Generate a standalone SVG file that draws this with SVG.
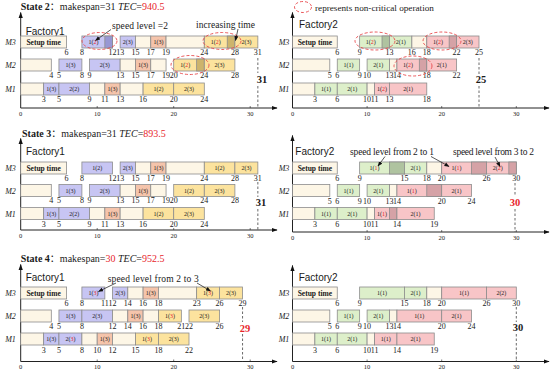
<svg xmlns="http://www.w3.org/2000/svg" width="552" height="371" viewBox="0 0 552 371">
<defs>
<style>
text{font-family:"Liberation Serif","Times New Roman","Noto Sans CJK SC",serif;fill:#1a1a1a}
.bar{stroke:#8c8c8c;stroke-width:0.8}
.c{fill:#FDF6E6}.b{fill:#C7C5F3}.bd{fill:#9897D3}.s{fill:#F5C4AB}
.y{fill:#FCE39E}.yd{fill:#CDB46C}.g{fill:#DDEFCA}.gd{fill:#AFC3A0}
.p{fill:#F8C5C7}.pd{fill:#D5A2A6}
.lb{font-size:6px;text-anchor:middle}
.st{font-size:7.5px;font-weight:bold;text-anchor:middle}
.n{font-size:8px;text-anchor:middle}
.m{font-size:8px;font-style:italic;text-anchor:middle}
.tk{font-size:6.5px;text-anchor:middle}
.f{font-family:"Liberation Sans",Arial,sans-serif;font-size:10px}
.an{font-size:9.5px}
.big{font-size:10.5px;font-weight:bold;text-anchor:middle}
.r{fill:#E8262C}
.ti{font-size:10px}
.ax{stroke:#222;stroke-width:1;fill:none}
.tm{stroke:#222;stroke-width:0.6}
.dl{stroke:#444;stroke-width:0.8;stroke-dasharray:2.5,2}
.el{fill:none;stroke:#E8474B;stroke-width:0.9;stroke-dasharray:3,2}
.ar{stroke:#111;stroke-width:0.7;fill:none}
</style>
<marker id="ah" viewBox="0 0 10 10" refX="9" refY="5" markerWidth="6" markerHeight="6" markerUnits="userSpaceOnUse" orient="auto"><path d="M0,1.5L10,5L0,8.5z" fill="#111"/></marker>
<marker id="as" viewBox="0 0 10 10" refX="9" refY="5" markerWidth="5" markerHeight="5" markerUnits="userSpaceOnUse" orient="auto"><path d="M0,1L10,5L0,9z" fill="#111"/></marker>
</defs>
<rect width="552" height="371" fill="#fff"/>

<text class="ti" x="20.7" y="9.5"><tspan font-weight="bold">State 2</tspan>：makespan=31 <tspan font-style="italic">TEC</tspan>=<tspan class="r">940.5</tspan></text>
<text class="ti" x="22" y="136.5"><tspan font-weight="bold">State 3</tspan>：makespan=31 <tspan font-style="italic">TEC</tspan>=<tspan class="r">893.5</tspan></text>
<text class="ti" x="20.7" y="261.5"><tspan font-weight="bold">State 4</tspan>：makespan=<tspan class="r">30</tspan> <tspan font-style="italic">TEC</tspan>=<tspan class="r">952.5</tspan></text>

<g id="legend">
<ellipse class="el" cx="303" cy="7" rx="8.5" ry="5.5"/>
<text x="315" y="10.5" style="font-size:9.2px">represents non-critical operation</text>
</g>

<g id="s2-factory1">
<path class="ax" d="M20.7,108V12.5" marker-end="url(#ah)"/>
<path class="ax" d="M20.7,108H277" marker-end="url(#ah)"/>
<path class="tm" d="M97.2,108v-2M173.7,108v-2M250.2,108v-2"/>
<text class="tk" x="20.7" y="116">0</text><text class="tk" x="97.2" y="116">10</text><text class="tk" x="173.7" y="116">20</text><text class="tk" x="250.2" y="116">30</text>
<text class="f" x="25.7" y="35">Factory1</text>
<g transform="translate(0,36)">
<text class="m" x="10.5" y="9">M3</text>
<rect class="bar c" x="20.7" width="45.9" height="12"/><text class="st" x="43.6" y="8.5">Setup time</text>
<rect class="bar b" x="81.9" width="30.6" height="12"/><rect class="bar bd" x="104.85" width="7.65" height="12"/><text class="lb" x="93.4" y="8.2">1(<tspan class="r">2</tspan>)</text>
<rect class="bar b" x="120.15" width="15.3" height="12"/><text class="lb" x="127.8" y="8.2">2(3)</text>
<rect class="bar c" x="135.45" width="15.3" height="12"/>
<rect class="bar s" x="150.75" width="15.3" height="12"/><text class="lb" x="158.4" y="8.2">1(3)</text>
<rect class="bar c" x="166.05" width="38.25" height="12"/>
<rect class="bar y" x="204.3" width="30.6" height="12"/><rect class="bar yd" x="227.25" width="7.65" height="12"/><text class="lb" x="215.8" y="8.2">1(<tspan class="r">2</tspan>)</text>
<rect class="bar y" x="234.9" width="22.95" height="12"/><text class="lb" x="246.4" y="8.2">2(3)</text>
<text class="n" y="19"><tspan x="66.6">6</tspan><tspan x="81.9">8</tspan><tspan x="112.5">12</tspan><tspan x="120.15">13</tspan><tspan x="135.45">15</tspan><tspan x="150.75">17</tspan><tspan x="166.05">19</tspan><tspan x="204.3">24</tspan><tspan x="234.9">28</tspan><tspan x="257.85">31</tspan></text>
</g>
<g transform="translate(0,59)">
<text class="m" x="10.5" y="9">M2</text>
<rect class="bar c" x="20.7" width="30.6" height="12"/>
<rect class="bar b" x="58.95" width="22.95" height="12"/><text class="lb" x="70.4" y="8.2">1(3)</text>
<rect class="bar b" x="89.55" width="30.6" height="12"/><text class="lb" x="104.85" y="8.2">2(3)</text>
<rect class="bar c" x="120.15" width="15.3" height="12"/>
<rect class="bar s" x="135.45" width="15.3" height="12"/><text class="lb" x="143.1" y="8.2">1(3)</text>
<rect class="bar c" x="150.75" width="15.3" height="12"/>
<rect class="bar y" x="173.7" width="30.6" height="12"/><rect class="bar yd" x="196.65" width="7.65" height="12"/><text class="lb" x="185.2" y="8.2">1(<tspan class="r">2</tspan>)</text>
<rect class="bar y" x="204.3" width="30.6" height="12"/><text class="lb" x="219.6" y="8.2">2(3)</text>
<text class="n" y="19"><tspan x="51.3">4</tspan><tspan x="58.95">5</tspan><tspan x="81.9">8</tspan><tspan x="89.55">9</tspan><tspan x="120.15">13</tspan><tspan x="135.45">15</tspan><tspan x="150.75">17</tspan><tspan x="166.05">19</tspan><tspan x="173.7">20</tspan><tspan x="204.3">24</tspan><tspan x="234.9">28</tspan></text>
</g>
<g transform="translate(0,83)">
<text class="m" x="10.5" y="9">M1</text>
<rect class="bar c" x="20.7" width="22.95" height="12"/>
<rect class="bar b" x="43.65" width="15.3" height="12"/><text class="lb" x="51.3" y="8.2">1(3)</text>
<rect class="bar b" x="58.95" width="30.6" height="12"/><text class="lb" x="74.25" y="8.2">2(2)</text>
<rect class="bar c" x="89.55" width="15.3" height="12"/>
<rect class="bar s" x="104.85" width="15.3" height="12"/><text class="lb" x="112.5" y="8.2">1(3)</text>
<rect class="bar c" x="120.15" width="22.95" height="12"/>
<rect class="bar y" x="143.1" width="30.6" height="12"/><text class="lb" x="158.4" y="8.2">1(2)</text>
<rect class="bar y" x="173.7" width="30.6" height="12"/><text class="lb" x="189" y="8.2">2(3)</text>
<text class="n" y="19"><tspan x="43.65">3</tspan><tspan x="58.95">5</tspan><tspan x="89.55">9</tspan><tspan x="104.85">11</tspan><tspan x="120.15">13</tspan><tspan x="143.1">16</tspan><tspan x="173.7">20</tspan><tspan x="204.3">24</tspan></text>
</g>
<path class="dl" d="M257.85,58V73M257.85,86V108"/>
<text class="big" x="262" y="83">31</text>
<ellipse class="el" cx="99.5" cy="41" rx="17.5" ry="8.5"/>
<ellipse class="el" cx="222" cy="41" rx="19" ry="8.5"/>
<ellipse class="el" cx="190" cy="65" rx="19" ry="9.5"/>
<text class="an" x="112" y="29" textLength="56">speed level =2</text>
<text class="an" x="196" y="28" textLength="59">increasing time</text>
</g>

<g id="s2-factory2">
<path class="ax" d="M292.5,108V12.5" marker-end="url(#ah)"/>
<path class="ax" d="M292.5,108H549" marker-end="url(#ah)"/>
<path class="tm" d="M367.1,108v-2M441.7,108v-2M516.3,108v-2"/>
<text class="tk" x="292.5" y="116">0</text><text class="tk" x="367.1" y="116">10</text><text class="tk" x="441.7" y="116">20</text><text class="tk" x="516.3" y="116">30</text>
<text class="f" x="299" y="28">Factory2</text>
<g transform="translate(0,36)">
<text class="m" x="284" y="9">M3</text>
<rect class="bar c" x="292.5" width="44.76" height="12"/><text class="st" x="314.9" y="8.5">Setup time</text>
<rect class="bar g" x="359.64" width="29.84" height="12"/><rect class="bar gd" x="382.02" width="7.46" height="12"/><text class="lb" x="370.8" y="8.2">1(<tspan class="r">2</tspan>)</text>
<rect class="bar g" x="389.48" width="22.38" height="12"/><text class="lb" x="400.7" y="8.2">2(1)</text>
<rect class="bar c" x="411.86" width="14.92" height="12"/>
<rect class="bar p" x="426.78" width="29.84" height="12"/><rect class="bar pd" x="449.16" width="7.46" height="12"/><text class="lb" x="438" y="8.2">1(<tspan class="r">2</tspan>)</text>
<rect class="bar p" x="456.62" width="22.38" height="12"/><text class="lb" x="467.8" y="8.2">2(3)</text>
<text class="n" y="19"><tspan x="337.26">6</tspan><tspan x="359.64">9</tspan><tspan x="389.48">13</tspan><tspan x="411.86">16</tspan><tspan x="426.78">18</tspan><tspan x="456.62">22</tspan><tspan x="479">25</tspan></text>
</g>
<g transform="translate(0,59)">
<text class="m" x="284" y="9">M2</text>
<rect class="bar c" x="292.5" width="37.3" height="12"/>
<rect class="bar g" x="337.26" width="22.38" height="12"/><text class="lb" x="348.45" y="8.2">1(1)</text>
<rect class="bar g" x="367.1" width="22.38" height="12"/><text class="lb" x="378.3" y="8.2">2(1)</text>
<rect class="bar c" x="389.48" width="7.46" height="12"/>
<rect class="bar p" x="396.94" width="29.84" height="12"/><rect class="bar pd" x="419.32" width="7.46" height="12"/><text class="lb" x="408.1" y="8.2">1(<tspan class="r">2</tspan>)</text>
<rect class="bar p" x="426.78" width="29.84" height="12"/><text class="lb" x="441.7" y="8.2">2(1)</text>
<text class="n" y="19"><tspan x="329.8">5</tspan><tspan x="337.26">6</tspan><tspan x="359.64">9</tspan><tspan x="367.1">10</tspan><tspan x="389.48">13</tspan><tspan x="396.94">14</tspan><tspan x="426.78">18</tspan><tspan x="456.62">22</tspan></text>
</g>
<g transform="translate(0,83)">
<text class="m" x="284" y="9">M1</text>
<rect class="bar c" x="292.5" width="22.38" height="12"/>
<rect class="bar g" x="314.88" width="22.38" height="12"/><text class="lb" x="326.07" y="8.2">1(1)</text>
<rect class="bar g" x="337.26" width="29.84" height="12"/><text class="lb" x="352.18" y="8.2">2(1)</text>
<rect class="bar c" x="367.1" width="7.46" height="12"/>
<rect class="bar p" x="374.56" width="14.92" height="12"/><text class="lb" x="382.02" y="8.2">1(<tspan class="r">2</tspan>)</text>
<rect class="bar p" x="389.48" width="37.3" height="12"/><text class="lb" x="408.13" y="8.2">2(1)</text>
<text class="n" y="19"><tspan x="314.88">3</tspan><tspan x="337.26">6</tspan><tspan x="367.1">10</tspan><tspan x="374.56">11</tspan><tspan x="389.48">13</tspan><tspan x="426.78">18</tspan></text>
</g>
<path class="dl" d="M479,58V74M479,86V108"/>
<text class="big" x="481" y="83">25</text>
<ellipse class="el" cx="375" cy="41" rx="20" ry="9"/>
<ellipse class="el" cx="442" cy="41" rx="19" ry="9"/>
<ellipse class="el" cx="413" cy="66" rx="19" ry="10"/>
</g>

<g id="s3-factory1">
<path class="ax" d="M20.7,230V138.5" marker-end="url(#ah)"/>
<path class="ax" d="M20.7,230H277" marker-end="url(#ah)"/>
<path class="tm" d="M97.2,230v-2M173.7,230v-2M250.2,230v-2"/>
<text class="tk" x="20.7" y="238">0</text><text class="tk" x="97.2" y="238">10</text><text class="tk" x="173.7" y="238">20</text><text class="tk" x="250.2" y="238">30</text>
<text class="f" x="26" y="155">Factory1</text>
<g transform="translate(0,162)">
<text class="m" x="10.5" y="9">M3</text>
<rect class="bar c" x="20.7" width="45.9" height="12"/><text class="st" x="43.6" y="8.5">Setup time</text>
<rect class="bar b" x="81.9" width="30.6" height="12"/><text class="lb" x="97.2" y="8.2">1(2)</text>
<rect class="bar b" x="120.15" width="15.3" height="12"/><text class="lb" x="127.8" y="8.2">2(3)</text>
<rect class="bar c" x="135.45" width="15.3" height="12"/>
<rect class="bar s" x="150.75" width="15.3" height="12"/><text class="lb" x="158.4" y="8.2">1(3)</text>
<rect class="bar c" x="166.05" width="38.25" height="12"/>
<rect class="bar y" x="204.3" width="30.6" height="12"/><text class="lb" x="219.6" y="8.2">1(2)</text>
<rect class="bar y" x="234.9" width="22.95" height="12"/><text class="lb" x="246.4" y="8.2">2(3)</text>
<text class="n" y="18.5"><tspan x="66.6">6</tspan><tspan x="81.9">8</tspan><tspan x="112.5">12</tspan><tspan x="120.15">13</tspan><tspan x="135.45">15</tspan><tspan x="150.75">17</tspan><tspan x="166.05">19</tspan><tspan x="204.3">24</tspan><tspan x="234.9">28</tspan><tspan x="257.85">31</tspan></text>
</g>
<g transform="translate(0,184.5)">
<text class="m" x="10.5" y="9">M2</text>
<rect class="bar c" x="20.7" width="30.6" height="12"/>
<rect class="bar b" x="58.95" width="22.95" height="12"/><text class="lb" x="70.4" y="8.2">1(3)</text>
<rect class="bar b" x="89.55" width="30.6" height="12"/><text class="lb" x="104.85" y="8.2">2(3)</text>
<rect class="bar c" x="120.15" width="15.3" height="12"/>
<rect class="bar s" x="135.45" width="15.3" height="12"/><text class="lb" x="143.1" y="8.2">1(3)</text>
<rect class="bar c" x="150.75" width="15.3" height="12"/>
<rect class="bar y" x="173.7" width="30.6" height="12"/><text class="lb" x="189" y="8.2">1(2)</text>
<rect class="bar y" x="204.3" width="30.6" height="12"/><text class="lb" x="219.6" y="8.2">2(3)</text>
<text class="n" y="18.5"><tspan x="51.3">4</tspan><tspan x="58.95">5</tspan><tspan x="81.9">8</tspan><tspan x="89.55">9</tspan><tspan x="120.15">13</tspan><tspan x="135.45">15</tspan><tspan x="150.75">17</tspan><tspan x="166.05">19</tspan><tspan x="173.7">20</tspan><tspan x="204.3">24</tspan><tspan x="234.9">28</tspan></text>
</g>
<g transform="translate(0,207.5)">
<text class="m" x="10.5" y="9">M1</text>
<rect class="bar c" x="20.7" width="22.95" height="12"/>
<rect class="bar b" x="43.65" width="15.3" height="12"/><text class="lb" x="51.3" y="8.2">1(3)</text>
<rect class="bar b" x="58.95" width="30.6" height="12"/><text class="lb" x="74.25" y="8.2">2(2)</text>
<rect class="bar c" x="89.55" width="15.3" height="12"/>
<rect class="bar s" x="104.85" width="15.3" height="12"/><text class="lb" x="112.5" y="8.2">1(3)</text>
<rect class="bar c" x="120.15" width="22.95" height="12"/>
<rect class="bar y" x="143.1" width="30.6" height="12"/><text class="lb" x="158.4" y="8.2">1(2)</text>
<rect class="bar y" x="173.7" width="30.6" height="12"/><text class="lb" x="189" y="8.2">2(3)</text>
<text class="n" y="19"><tspan x="43.65">3</tspan><tspan x="58.95">5</tspan><tspan x="89.55">9</tspan><tspan x="104.85">11</tspan><tspan x="120.15">13</tspan><tspan x="143.1">16</tspan><tspan x="173.7">20</tspan><tspan x="204.3">24</tspan></text>
</g>
<path class="dl" d="M257.85,182V197M257.85,209V230"/>
<text class="big" x="261" y="206">31</text>
</g>

<g id="s3-factory2">
<path class="ax" d="M292.5,232V135.5" marker-end="url(#ah)"/>
<path class="ax" d="M292.5,232H549" marker-end="url(#ah)"/>
<path class="tm" d="M367.1,232v-2M441.7,232v-2M516.3,232v-2"/>
<text class="tk" x="292.5" y="240">0</text><text class="tk" x="367.1" y="240">10</text><text class="tk" x="441.7" y="240">20</text><text class="tk" x="516.3" y="240">30</text>
<text class="f" x="295.3" y="155">Factory2</text>
<g transform="translate(0,162)">
<text class="m" x="284" y="9">M3</text>
<rect class="bar c" x="292.5" width="44.76" height="12"/><text class="st" x="314.9" y="8.5">Setup time</text>
<rect class="bar g" x="359.64" width="44.76" height="12"/><rect class="bar gd" x="389.48" width="14.92" height="12"/><text class="lb" x="374.56" y="8.2">1(<tspan class="r">1</tspan>)</text>
<rect class="bar g" x="404.4" width="22.38" height="12"/><text class="lb" x="415.6" y="8.2">2(1)</text>
<rect class="bar c" x="426.78" width="14.92" height="12"/>
<rect class="bar p" x="441.7" width="44.76" height="12"/><rect class="bar pd" x="471.54" width="14.92" height="12"/><text class="lb" x="456.6" y="8.2">1(<tspan class="r">1</tspan>)</text>
<rect class="bar p" x="486.46" width="29.84" height="12"/><rect class="bar pd" x="508.84" width="7.46" height="12"/><text class="lb" x="497.65" y="8.2">2(<tspan class="r">2</tspan>)</text>
<text class="n" y="18.5"><tspan x="337.26">6</tspan><tspan x="359.64">9</tspan><tspan x="404.4">15</tspan><tspan x="426.78">18</tspan><tspan x="441.7">20</tspan><tspan x="486.46">26</tspan><tspan x="516.3">30</tspan></text>
</g>
<g transform="translate(0,184.5)">
<text class="m" x="284" y="9">M2</text>
<rect class="bar c" x="292.5" width="37.3" height="12"/>
<rect class="bar g" x="337.26" width="22.38" height="12"/><text class="lb" x="348.45" y="8.2">1(1)</text>
<rect class="bar g" x="367.1" width="22.38" height="12"/><text class="lb" x="378.3" y="8.2">2(1)</text>
<rect class="bar c" x="389.48" width="7.46" height="12"/>
<rect class="bar p" x="396.94" width="44.76" height="12"/><rect class="bar pd" x="426.78" width="14.92" height="12"/><text class="lb" x="411.86" y="8.2">1(<tspan class="r">1</tspan>)</text>
<rect class="bar p" x="441.7" width="29.84" height="12"/><text class="lb" x="456.6" y="8.2">2(1)</text>
<text class="n" y="19"><tspan x="329.8">5</tspan><tspan x="337.26">6</tspan><tspan x="359.64">9</tspan><tspan x="367.1">10</tspan><tspan x="389.48">13</tspan><tspan x="396.94">14</tspan><tspan x="441.7">20</tspan><tspan x="471.54">24</tspan></text>
</g>
<g transform="translate(0,207.5)">
<text class="m" x="284" y="9">M1</text>
<rect class="bar c" x="292.5" width="22.38" height="12"/>
<rect class="bar g" x="314.88" width="22.38" height="12"/><text class="lb" x="326.07" y="8.2">1(1)</text>
<rect class="bar g" x="337.26" width="29.84" height="12"/><text class="lb" x="352.18" y="8.2">2(1)</text>
<rect class="bar c" x="367.1" width="7.46" height="12"/>
<rect class="bar p" x="374.56" width="22.38" height="12"/><rect class="bar pd" x="389.48" width="7.46" height="12"/><text class="lb" x="382.02" y="8.2">1(<tspan class="r">1</tspan>)</text>
<rect class="bar p" x="396.94" width="37.3" height="12"/><text class="lb" x="415.6" y="8.2">2(1)</text>
<text class="n" y="19.5"><tspan x="314.88">3</tspan><tspan x="337.26">6</tspan><tspan x="367.1">10</tspan><tspan x="374.56">11</tspan><tspan x="396.94">14</tspan><tspan x="434.24">19</tspan></text>
</g>
<path class="dl" d="M515,183V196M515,209V232"/>
<text class="big r" x="515" y="206">30</text>
<text class="an" x="350" y="155" textLength="84">speed level from 2 to 1</text>
<text class="an" x="453" y="155" textLength="81">speed level from 3 to 2</text>
</g>

<g id="s4-factory1">
<path class="ax" d="M20.7,361.5V264.5" marker-end="url(#ah)"/>
<path class="ax" d="M20.7,361.5H277" marker-end="url(#ah)"/>
<path class="tm" d="M97.2,361.5v-2M173.7,361.5v-2M250.2,361.5v-2"/>
<text class="tk" x="20.7" y="368.5">0</text><text class="tk" x="97.2" y="368.5">10</text><text class="tk" x="173.7" y="368.5">20</text><text class="tk" x="250.2" y="368.5">30</text>
<text class="f" x="25.7" y="281">Factory1</text>
<g transform="translate(0,287)">
<text class="m" x="10.5" y="9">M3</text>
<rect class="bar c" x="20.7" width="45.9" height="12"/><text class="st" x="43.6" y="8.5">Setup time</text>
<rect class="bar b" x="81.9" width="22.95" height="12"/><text class="lb" x="93.4" y="8.2">1(<tspan class="r">3</tspan>)</text>
<rect class="bar b" x="112.5" width="15.3" height="12"/><text class="lb" x="120.15" y="8.2">2(3)</text>
<rect class="bar c" x="127.8" width="15.3" height="12"/>
<rect class="bar s" x="143.1" width="15.3" height="12"/><text class="lb" x="150.75" y="8.2">1(3)</text>
<rect class="bar c" x="158.4" width="38.25" height="12"/>
<rect class="bar y" x="196.65" width="22.95" height="12"/><text class="lb" x="208.1" y="8.2">1(<tspan class="r">3</tspan>)</text>
<rect class="bar y" x="219.6" width="22.95" height="12"/><text class="lb" x="231.1" y="8.2">2(3)</text>
<text class="n" y="19"><tspan x="66.6">6</tspan><tspan x="81.9">8</tspan><tspan x="104.85">11</tspan><tspan x="112.5">12</tspan><tspan x="127.8">14</tspan><tspan x="143.1">16</tspan><tspan x="158.4">18</tspan><tspan x="196.65">23</tspan><tspan x="219.6">26</tspan><tspan x="242.55">29</tspan></text>
</g>
<g transform="translate(0,310)">
<text class="m" x="10.5" y="9">M2</text>
<rect class="bar c" x="20.7" width="30.6" height="12"/>
<rect class="bar b" x="58.95" width="22.95" height="12"/><text class="lb" x="70.4" y="8.2">1(3)</text>
<rect class="bar b" x="81.9" width="30.6" height="12"/><text class="lb" x="97.2" y="8.2">2(3)</text>
<rect class="bar c" x="112.5" width="15.3" height="12"/>
<rect class="bar s" x="127.8" width="15.3" height="12"/><text class="lb" x="135.45" y="8.2">1(3)</text>
<rect class="bar c" x="143.1" width="15.3" height="12"/>
<rect class="bar y" x="158.4" width="22.95" height="12"/><text class="lb" x="169.9" y="8.2">1(<tspan class="r">3</tspan>)</text>
<rect class="bar y" x="189" width="30.6" height="12"/><text class="lb" x="204.3" y="8.2">2(3)</text>
<text class="n" y="19"><tspan x="51.3">4</tspan><tspan x="58.95">5</tspan><tspan x="81.9">8</tspan><tspan x="112.5">12</tspan><tspan x="127.8">14</tspan><tspan x="143.1">16</tspan><tspan x="158.4">18</tspan><tspan x="181.35">21</tspan><tspan x="189">22</tspan><tspan x="219.6">26</tspan></text>
</g>
<g transform="translate(0,333)">
<text class="m" x="10.5" y="9">M1</text>
<rect class="bar c" x="20.7" width="22.95" height="12"/>
<rect class="bar b" x="43.65" width="15.3" height="12"/><text class="lb" x="51.3" y="8.2">1(3)</text>
<rect class="bar b" x="58.95" width="22.95" height="12"/><text class="lb" x="70.4" y="8.2">2(<tspan class="r">3</tspan>)</text>
<rect class="bar c" x="81.9" width="15.3" height="12"/>
<rect class="bar s" x="97.2" width="15.3" height="12"/><text class="lb" x="104.85" y="8.2">1(3)</text>
<rect class="bar c" x="112.5" width="22.95" height="12"/>
<rect class="bar y" x="135.45" width="22.95" height="12"/><text class="lb" x="146.9" y="8.2">1(<tspan class="r">3</tspan>)</text>
<rect class="bar y" x="158.4" width="30.6" height="12"/><text class="lb" x="173.7" y="8.2">2(3)</text>
<text class="n" y="19.5"><tspan x="43.65">3</tspan><tspan x="58.95">5</tspan><tspan x="81.9">8</tspan><tspan x="97.2">10</tspan><tspan x="112.5">12</tspan><tspan x="135.45">15</tspan><tspan x="158.4">18</tspan><tspan x="189">22</tspan></text>
</g>
<path class="dl" d="M242.55,307V322M242.55,334V361.5"/>
<text class="big r" x="245" y="332">29</text>
<text class="an" x="107.7" y="281.5" textLength="91">speed level from 2 to 3</text>
</g>

<g id="s4-factory2">
<path class="ax" d="M292.5,361.5V265.5" marker-end="url(#ah)"/>
<path class="ax" d="M292.5,361.5H549" marker-end="url(#ah)"/>
<path class="tm" d="M367.1,361.5v-2M441.7,361.5v-2M516.3,361.5v-2"/>
<text class="tk" x="292.5" y="368.5">0</text><text class="tk" x="367.1" y="368.5">10</text><text class="tk" x="441.7" y="368.5">20</text><text class="tk" x="516.3" y="368.5">30</text>
<text class="f" x="298.7" y="281">Factory2</text>
<g transform="translate(0,287)">
<text class="m" x="284" y="9">M3</text>
<rect class="bar c" x="292.5" width="44.76" height="12"/><text class="st" x="314.9" y="8.5">Setup time</text>
<rect class="bar g" x="359.64" width="44.76" height="12"/><text class="lb" x="382.02" y="8.2">1(1)</text>
<rect class="bar g" x="404.4" width="22.38" height="12"/><text class="lb" x="415.6" y="8.2">2(1)</text>
<rect class="bar c" x="426.78" width="14.92" height="12"/>
<rect class="bar p" x="441.7" width="44.76" height="12"/><text class="lb" x="464.08" y="8.2">1(1)</text>
<rect class="bar p" x="486.46" width="29.84" height="12"/><text class="lb" x="501.38" y="8.2">2(2)</text>
<text class="n" y="19"><tspan x="337.26">6</tspan><tspan x="359.64">9</tspan><tspan x="404.4">15</tspan><tspan x="426.78">18</tspan><tspan x="441.7">20</tspan><tspan x="486.46">26</tspan><tspan x="516.3">30</tspan></text>
</g>
<g transform="translate(0,310)">
<text class="m" x="284" y="9">M2</text>
<rect class="bar c" x="292.5" width="37.3" height="12"/>
<rect class="bar g" x="337.26" width="22.38" height="12"/><text class="lb" x="348.45" y="8.2">1(1)</text>
<rect class="bar g" x="367.1" width="22.38" height="12"/><text class="lb" x="378.3" y="8.2">2(1)</text>
<rect class="bar c" x="389.48" width="7.46" height="12"/>
<rect class="bar p" x="396.94" width="44.76" height="12"/><text class="lb" x="419.32" y="8.2">1(1)</text>
<rect class="bar p" x="441.7" width="29.84" height="12"/><text class="lb" x="456.6" y="8.2">2(1)</text>
<text class="n" y="19"><tspan x="329.8">5</tspan><tspan x="337.26">6</tspan><tspan x="359.64">9</tspan><tspan x="367.1">10</tspan><tspan x="389.48">13</tspan><tspan x="396.94">14</tspan><tspan x="441.7">20</tspan><tspan x="471.54">24</tspan></text>
</g>
<g transform="translate(0,333)">
<text class="m" x="284" y="9">M1</text>
<rect class="bar c" x="292.5" width="22.38" height="12"/>
<rect class="bar g" x="314.88" width="22.38" height="12"/><text class="lb" x="326.07" y="8.2">1(1)</text>
<rect class="bar g" x="337.26" width="29.84" height="12"/><text class="lb" x="352.18" y="8.2">2(1)</text>
<rect class="bar c" x="367.1" width="7.46" height="12"/>
<rect class="bar p" x="374.56" width="22.38" height="12"/><text class="lb" x="385.75" y="8.2">1(1)</text>
<rect class="bar p" x="396.94" width="37.3" height="12"/><text class="lb" x="415.6" y="8.2">2(1)</text>
<text class="n" y="19.5"><tspan x="314.88">3</tspan><tspan x="337.26">6</tspan><tspan x="367.1">10</tspan><tspan x="374.56">11</tspan><tspan x="396.94">14</tspan><tspan x="434.24">19</tspan></text>
</g>
<path class="dl" d="M516.3,307V322M516.3,334V361.5"/>
<text class="big" x="518" y="331">30</text>
</g>

<g id="connectors">
<path class="ar" d="M111,29.5L95.5,40.5" marker-end="url(#as)"/>
<path class="ar" d="M238,29L235.5,40.5" marker-end="url(#as)"/>
<path class="ar" d="M385,156.5L378,166" marker-end="url(#as)"/>
<path class="ar" d="M431,156.5L449,166.5" marker-end="url(#as)"/>
<path class="ar" d="M495,157L500,166.5" marker-end="url(#as)"/>
<path class="ar" d="M116,283L98.5,291.5" marker-end="url(#as)"/>
<path class="ar" d="M197,283L210.5,291" marker-end="url(#as)"/>
</g>
</svg>
